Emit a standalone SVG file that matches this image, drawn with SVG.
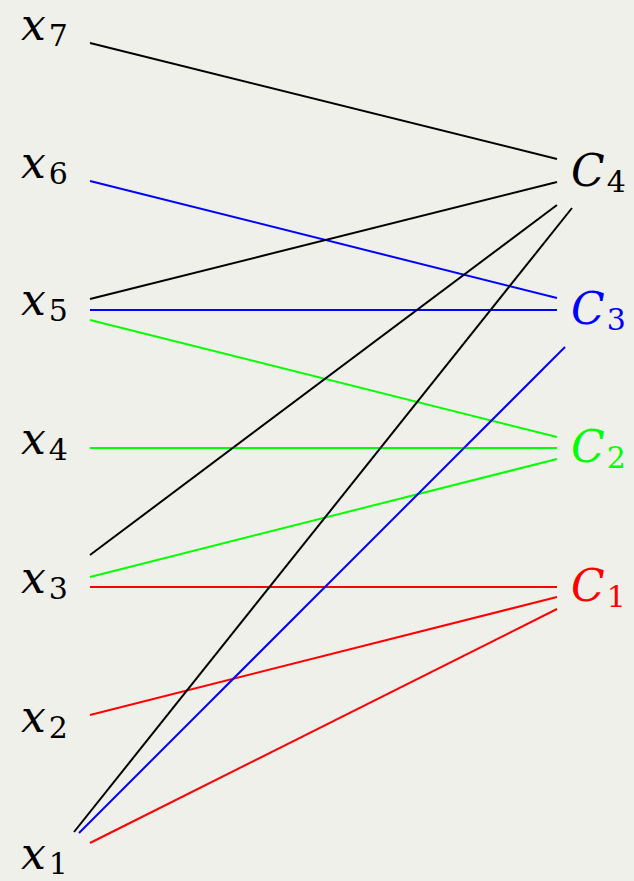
<svg xmlns="http://www.w3.org/2000/svg" width="634" height="881" viewBox="0 0 634 881">
<style>
.lbl{font-family:"DejaVu Serif",serif;font-size:44px;font-style:italic}
.sub{font-size:30px;font-style:normal}
.e{stroke-width:2;fill:none}
</style>
<rect width="634" height="881" fill="#f0f0ea"/>
<g id="connectors">
<line class="e" stroke="#000" x1="90" y1="43" x2="557" y2="159"/>
<line class="e" stroke="#0000ff" x1="90" y1="181" x2="557" y2="298"/>
<line class="e" stroke="#000" x1="90" y1="299" x2="557" y2="182"/>
<line class="e" stroke="#0000ff" x1="90" y1="310" x2="557" y2="310"/>
<line class="e" stroke="#00ff00" x1="90" y1="320" x2="557" y2="437"/>
<line class="e" stroke="#00ff00" x1="90" y1="448" x2="557" y2="448"/>
<line class="e" stroke="#000" x1="90" y1="555" x2="557" y2="205"/>
<line class="e" stroke="#00ff00" x1="90" y1="577" x2="557" y2="459"/>
<line class="e" stroke="#ff0000" x1="90" y1="587" x2="557" y2="587"/>
<line class="e" stroke="#ff0000" x1="90" y1="715" x2="557" y2="597"/>
<line class="e" stroke="#000" x1="74" y1="832" x2="572" y2="208"/>
<line class="e" stroke="#0000ff" x1="79" y1="833" x2="565" y2="347"/>
<line class="e" stroke="#ff0000" x1="90" y1="843" x2="557" y2="609"/>
</g>
<g id="x7"><text class="lbl" x="21" y="40">x<tspan class="sub" dx="3" dy="6">7</tspan></text></g>
<g id="x6"><text class="lbl" x="21" y="178">x<tspan class="sub" dx="3" dy="6">6</tspan></text></g>
<g id="x5"><text class="lbl" x="21" y="315">x<tspan class="sub" dx="3" dy="6">5</tspan></text></g>
<g id="x4"><text class="lbl" x="21" y="454">x<tspan class="sub" dx="3" dy="6">4</tspan></text></g>
<g id="x3"><text class="lbl" x="21" y="593">x<tspan class="sub" dx="3" dy="6">3</tspan></text></g>
<g id="x2"><text class="lbl" x="21" y="732">x<tspan class="sub" dx="3" dy="6">2</tspan></text></g>
<g id="x1"><text class="lbl" x="21" y="869">x<tspan class="sub" dx="3" dy="5">1</tspan></text></g>
<g id="C4"><text class="lbl" x="571" y="186">C<tspan class="sub" dx="2" dy="6">4</tspan></text></g>
<g id="C3" fill="#0000ff"><text class="lbl" x="571" y="324">C<tspan class="sub" dx="2" dy="6">3</tspan></text></g>
<g id="C2" fill="#00ff00"><text class="lbl" x="571" y="462">C<tspan class="sub" dx="2" dy="6">2</tspan></text></g>
<g id="C1" fill="#ff0000"><text class="lbl" x="571" y="601">C<tspan class="sub" dx="2" dy="6">1</tspan></text></g>
</svg>
